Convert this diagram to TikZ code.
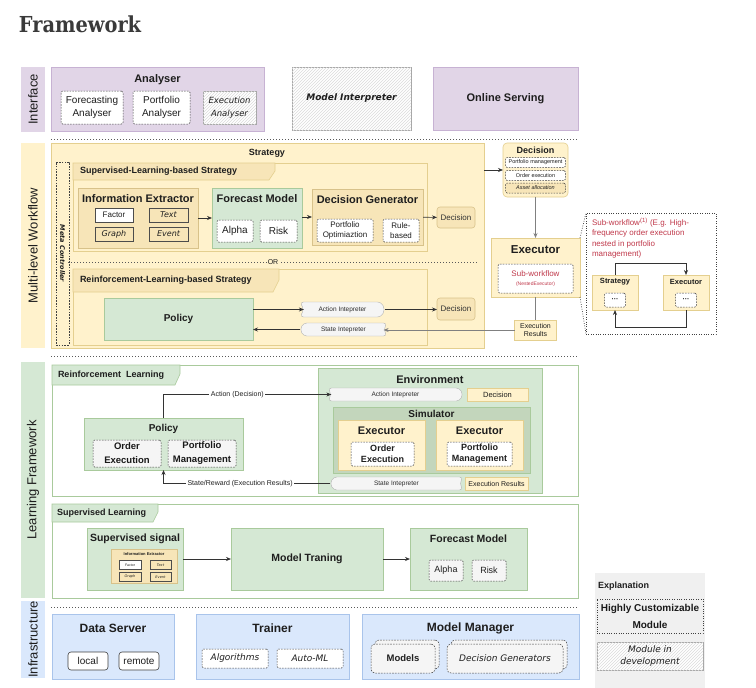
\documentclass[tikz,border=0pt]{standalone}
\usepackage{fontspec}
\setmainfont{Liberation Sans}
\newfontfamily\titlefont{DejaVu Serif}[FakeStretch=0.88]
\newfontfamily\comicfont{DejaVu Sans}
\usetikzlibrary{positioning,arrows.meta,patterns,shapes.symbols}

\definecolor{purplef}{HTML}{E1D5E7}
\definecolor{purpled}{HTML}{C7B2D3}
\definecolor{yellowf}{HTML}{FFF2CC}
\definecolor{yellowd}{HTML}{E4CF8F}
\definecolor{yellowk}{HTML}{F7E5B8}
\definecolor{yellowkd}{HTML}{D8C28A}
\definecolor{greenf}{HTML}{D5E8D4}
\definecolor{greend}{HTML}{A9CA9C}
\definecolor{simf}{HTML}{C3D6BC}
\definecolor{bluef}{HTML}{DAE8FC}
\definecolor{blued}{HTML}{A9C4EB}
\definecolor{grayf}{HTML}{F5F5F5}
\definecolor{explf}{HTML}{F0F0F0}
\definecolor{txtc}{HTML}{1E1E1E}
\definecolor{titlec}{HTML}{3A3A3A}
\definecolor{redt}{HTML}{C0394B}

\newcommand\fs[2]{\fontsize{#1}{#2}\selectfont}

\begin{document}
\begin{tikzpicture}[
                    x=1pt, y=-1pt,
                    >={Stealth[length=5pt,width=4pt]},
                    every node/.style={inner sep=0pt, outer sep=0pt, text=txtc, align=center},
                    sz/.style 2 args={minimum width=#1pt, minimum height=#2pt},
                    basebox/.style={draw, anchor=north west, line width=0.6pt},
                    purplebox/.style={basebox, fill=purplef, draw=purpled},
                    yellowbox/.style={basebox, fill=yellowf, draw=yellowd},
                    innerbox/.style={basebox, fill=yellowk, draw=yellowkd},
                    greenbox/.style={basebox, fill=greenf, draw=greend},
                    simbox/.style={basebox, fill=simf, draw=greend},
                    bluebox/.style={basebox, fill=bluef, draw=blued},
                    rlbox/.style={basebox, fill=white, draw=greend},
                    dashbox/.style={basebox, draw=gray!50!black, dash pattern=on 1.6pt off 1.2pt, line width=0.5pt, rounded corners=1.5pt},
                    dotbox/.style={basebox, draw=gray!50!black, dash pattern=on 0.8pt off 1.6pt, line width=0.7pt},
                    hatch/.style={basebox, fill=white, draw=gray!70, postaction={pattern=north east lines, pattern color=gray!28}},
                    solidbox/.style={basebox, draw=gray!60!black, line width=0.5pt},
                    decbox/.style={basebox, rounded corners=3pt, fill=yellowk, draw=yellowkd, font=\fs{8}{9}, text=gray!40!black},
                    rbox/.style={basebox, rounded corners=3pt, fill=white, draw=gray!50!black, font=\fs{10}{12}},
                    bar/.style={rotate=90, font=\fs{13}{15}},
                    tab/.style={fill=#1, draw=greend, line width=0.6pt},
                    actsig/.style={signal, signal from=west, signal to=east, signal pointer angle=125, rounded corners=3.5pt,
                                   draw=gray!60, fill=grayf, font=\fs{6.5}{8}, text=gray!35!black},
                    statesig/.style={actsig, signal from=east, signal to=west},
                    ttl/.style={font=\bfseries\fs{11}{13}},
                    ttlm/.style={font=\bfseries\fs{10}{12}},
                    ttls/.style={font=\bfseries\fs{9}{11}},
                    comic/.style={font=\comicfont\itshape\fs{#1}{#1}, text=gray!25!black},
                    lbl/.style={fill=white, inner sep=1.5pt, font=\fs{7}{8}, text=gray!25!black},
                    conn/.style={draw=black!80, line width=0.7pt},
                    gline/.style={draw=gray, line width=1pt},
                    sep/.style={draw=gray!70!black, dash pattern=on 0.8pt off 2.2pt, line width=0.8pt},
                    dotline/.style={draw=gray!50!black, dash pattern=on 0.8pt off 1.6pt, line width=0.7pt}
                ]
                \path[use as bounding box, fill=white] (0,0) rectangle (756,688);

                \node[anchor=west, font=\titlefont\bfseries\fs{22}{24}, text=titlec] (title) at (19,24) {Framework};

                % side bars
                \node[bar, fill=purplef, sz={65}{24}] (ifbar) at (33,99.5) {Interface};
                \node[bar, fill=yellowf, sz={205}{24}] (wfbar) at (33,245.5) {Multi-level Workflow};
                \node[bar, fill=greenf, sz={236}{24}] (lfbar) at (33,480) {Learning Framework};
                \node[bar, fill=bluef, sz={77}{24}] (isbar) at (33,639.5) {Infrastructure};

                \draw[sep] (51,139) -- (578,139);
                \draw[sep] (51,356) -- (578,356);
                \draw[sep] (51,607) -- (578,607);

                % interface
                \node[purplebox, sz={213}{64}] (analyser) at (51,67) {};
                \node[ttl] (analyser-t) at (157.5,80) {Analyser};
                \node[dashbox, fill=white, sz={62}{33}, font=\fs{10}{12.5}] (fcana) at (61,91) {Forecasting\\Analyser};
                \node[dashbox, fill=white, sz={57}{33}, font=\fs{10}{12.5}] (ptana) at (133,91) {Portfolio\\Analyser};
                \node[hatch, sz={53}{33}, comic=8.5, font=\comicfont\itshape\fs{8.5}{12.5}] (exana) at (203,91) {Execution\\Analyser};
                \node[hatch, sz={119}{63}, font=\comicfont\bfseries\itshape\fs{9}{11}] (modint) at (292,67) {Model Interpreter};
                \node[purplebox, sz={145}{63}, font=\bfseries\fs{11}{13}] (online) at (433,67) {Online Serving};

                % workflow
                \node[yellowbox, sz={433}{205}] (strategy) at (51,143) {};
                \node[ttls] (strategy-t) at (267,153) {Strategy};
                \node[dashbox, rounded corners=0pt, sz={13}{183}] (meta) at (56,162) {};
                \node[rotate=-90, font=\comicfont\bfseries\itshape\fs{6.5}{8}] (meta-t) at (meta.center) {Meta Controller};

                \node[yellowbox, sz={354}{88}] (slbs) at (73,163) {};
                \draw[tab=yellowk, draw=yellowd] (73,163) -- (275,163) -- (275,171) -- (269,180) -- (73,180) -- cycle;
                \node[ttls, anchor=west] (slbs-t) at (80,171.5) {Supervised-Learning-based Strategy};

                \node[innerbox, sz={120}{60}] (infoext) at (78,188) {};
                \node[ttl] (infoext-t) at (138,198.5) {Information Extractor};
                \node[solidbox, fill=white, sz={38}{14}, font=\fs{8}{9}] (ie-factor) at (95,208) {Factor};
                \node[solidbox, fill=yellowk, sz={39}{14}, comic=8] (ie-text) at (149,208) {Text};
                \node[solidbox, fill=yellowk, sz={38}{14}, comic=8] (ie-graph) at (95,227) {Graph};
                \node[solidbox, fill=yellowk, sz={39}{14}, comic=8] (ie-event) at (149,227) {Event};

                \node[greenbox, sz={90}{60}] (forecast) at (212,188) {};
                \node[ttl] (forecast-t) at (257,198.5) {Forecast Model};
                \node[dashbox, fill=white, sz={36}{22}, font=\fs{10}{12}] (alpha) at (217,220) {Alpha};
                \node[dashbox, fill=white, sz={37}{22}, font=\fs{10}{12}] (risk) at (260,220) {Risk};

                \node[innerbox, sz={111}{56}] (decgen) at (312,189) {};
                \node[ttl] (decgen-t) at (367.5,200) {Decision Generator};
                \node[dashbox, fill=white, sz={56}{23}, font=\fs{8}{10}] (portopt) at (317,219) {Portfolio\\Optimiaztion};
                \node[dashbox, fill=white, sz={36}{23}, font=\fs{8}{10}] (rulebased) at (383,219) {Rule-\\based};
                \node[decbox, sz={38}{21}] (decision-a) at (437,207) {Decision};

                \draw[conn, ->] (infoext) -- (forecast);
                \draw[conn, ->] (forecast.east |- decgen) -- (decgen);
                \draw[conn, ->] (decgen) -- (decision-a);

                \draw[sep] (68,262) -- (478,262);
                \node[fill=yellowf, inner sep=1pt, font=\fs{7}{8}] (or) at (273,262) {OR};

                \node[yellowbox, sz={354}{76}] (rlbs) at (73,269) {};
                \draw[tab=yellowk, draw=yellowd] (73,269) -- (279,269) -- (279,280) -- (273,292) -- (73,292) -- cycle;
                \node[ttls, anchor=west] (rlbs-t) at (80,280.5) {Reinforcement-Learning-based Strategy};
                \node[greenbox, sz={149}{42}, font=\bfseries\fs{10}{12}] (policy-a) at (104,298) {Policy};
                \node[actsig, sz={85}{15}] (actint-a) at (342.5,309.5) {Action Intepreter};
                \node[statesig, sz={87}{13}] (stint-a) at (343.5,329.5) {State Intepreter};
                \node[decbox, sz={38}{22}] (decision-b) at (437,298) {Decision};

                \draw[conn, ->] (policy-a.east |- actint-a.west) -- (actint-a.west);
                \draw[conn, ->] (actint-a.east) -- (actint-a.east -| decision-b.west);
                \draw[conn, ->] (stint-a.west) -- (stint-a.west -| policy-a.east);

                % decision and executor
                \node[yellowbox, rounded corners=4pt, sz={65}{54}] (decision-c) at (503,143) {};
                \node[ttls] (decision-c-t) at (535.5,150.5) {Decision};
                \node[dashbox, fill=white, sz={60}{10}, font=\fs{5.5}{6}] (dec-pm) at (505.5,157.5) {Portfolio management};
                \node[dashbox, fill=white, sz={60}{10}, font=\fs{5.5}{6}] (dec-oe) at (505.5,170.5) {Order execution};
                \node[dashbox, fill=yellowk, sz={60}{10}, font=\itshape\fs{5.5}{6}] (dec-aa) at (505.5,183) {Asset allocation};
                \draw[conn, ->] (decision-c.west -| strategy.east) -- (decision-c.west);

                \node[yellowbox, sz={89}{59}] (executor) at (491,238) {};
                \node[ttl, font=\bfseries\fs{11.5}{13}] (executor-t) at (535.5,249.5) {Executor};
                \node[dashbox, fill=white, sz={75}{29}, text=redt, font=\fs{8}{9.5}] (subwf) at (498,264) {Sub-workflow\\{\fs{5}{6}(NestedExecutor)}};
                \draw[gline, ->] (decision-c) -- (executor);

                \node[yellowbox, sz={42}{20}, font=\fs{7}{8.5}] (execres-a) at (514.5,320) {Execution\\Results};
                \draw[gline] (executor) -- (execres-a);
                \draw[gline, ->] (execres-a.west) -- (execres-a.west -| stint-a.east);

                % nested sub-workflow
                \node[dotbox, sz={130}{121}] (callout) at (586,213) {};
                \draw[dotline] (executor.north east) -- (callout.north west);
                \draw[dotline] (executor.south east) -- (callout.south west);
                \node[anchor=north west, align=left, text=redt, font=\fs{8}{10.5}] (callout-t) at (592,218)
                    {Sub-workflow\textsuperscript{(1)} (E.g. High-\\frequency order execution\\nested in portfolio\\management)};
                \node[yellowbox, sz={46}{35}] (substrat) at (592,275) {};
                \node[font=\bfseries\fs{7.5}{9}] (substrat-t) at (615,282) {Strategy};
                \node[dashbox, fill=white, sz={21}{14}, font=\bfseries\fs{7}{8}] (subdots-a) at (604.5,293) {···};
                \node[yellowbox, sz={46}{35}] (subexec) at (663,275) {};
                \node[font=\bfseries\fs{7.5}{9}] (subexec-t) at (686,282) {Executor};
                \node[dashbox, fill=white, sz={21}{14}, font=\bfseries\fs{7}{8}] (subdots-b) at (675.5,293) {···};
                \draw[conn, ->] (substrat.north) -- ++(0,-12) -| (subexec.north);
                \draw[conn, ->] (subexec.south) -- ++(0,17) -| (substrat.south);

                % learning framework: reinforcement learning
                \node[rlbox, sz={526}{131}] (rl) at (52,365) {};
                \draw[tab=greenf] (52,365) -- (180,365) -- (180,374) -- (175,385) -- (52,385) -- cycle;
                \node[ttls, anchor=west] (rl-t) at (58,375) {Reinforcement\ \ Learning};
                \node[greenbox, sz={159}{52}] (policy-b) at (84,418) {};
                \node[ttlm] (policy-b-t) at (163.5,428.5) {Policy};
                \node[dashbox, fill=grayf, sz={68}{27}, font=\bfseries\fs{9.5}{14}, text=gray!20!black] (pol-oe) at (93,440) {Order\\Execution};
                \node[dashbox, fill=grayf, sz={68}{27}, font=\bfseries\fs{9.5}{14}, text=gray!20!black] (pol-pm) at (168,440) {Portfolio\\Management};

                \node[greenbox, sz={224}{125}] (env) at (318,368) {};
                \node[ttl] (env-t) at (430,380) {Environment};
                \node[actsig, sz={135}{13}] (actint-b) at (395.5,394.5) {Action Intepreter};
                \node[yellowbox, sz={61}{13}, font=\fs{7.5}{9}] (decision-d) at (467,388) {Decision};
                \node[simbox, sz={197}{66}] (sim) at (333,407) {};
                \node[ttlm] (sim-t) at (431.5,413.5) {Simulator};
                \node[yellowbox, sz={87}{50}] (exec-b) at (338,420) {};
                \node[ttl] (exec-b-t) at (381.5,430.5) {Executor};
                \node[dashbox, fill=white, sz={63}{24}, font=\bfseries\fs{9}{11}] (sim-oe) at (351,442) {Order\\Execution};
                \node[yellowbox, sz={87}{50}] (exec-c) at (436,420) {};
                \node[ttl] (exec-c-t) at (479.5,430.5) {Executor};
                \node[dashbox, fill=white, sz={65}{24}, font=\bfseries\fs{9}{11}] (sim-pm) at (447,442) {Portfolio\\Management};
                \node[statesig, sz={133}{13}] (stint-b) at (396.5,483.5) {State Intepreter};
                \node[yellowbox, sz={63}{13}, font=\fs{7}{8}] (execres-b) at (465,477) {Execution Results};

                \draw[conn, ->] (policy-b.north) |- node[lbl, pos=0.72] {Action (Decision)} (actint-b.west);
                \draw[conn, ->] (stint-b.west) -| node[lbl, pos=0.27] {State/Reward (Execution Results)} (policy-b.south);

                % learning framework: supervised learning
                \node[rlbox, sz={526}{94}] (sl) at (52,504) {};
                \draw[tab=greenf] (52,504) -- (158,504) -- (158,512) -- (153,522) -- (52,522) -- cycle;
                \node[ttls, anchor=west] (sl-t) at (57,513) {Supervised Learning};
                \node[greenbox, sz={96}{62}] (supsig) at (87,528) {};
                \node[ttlm, font=\bfseries\fs{10.5}{12}] (supsig-t) at (135,538.5) {Supervised signal};
                \node[innerbox, sz={66}{34}] (ie-mini) at (111,549) {};
                \node[font=\bfseries\fs{4}{5}] (ie-mini-t) at (144,554.5) {Information Extractor};
                \node[solidbox, fill=white, sz={22}{9}, font=\fs{3.5}{4}] (mini-factor) at (119,560.5) {Factor};
                \node[solidbox, fill=yellowk, sz={21}{9}, comic=3.5] (mini-text) at (150,560.5) {Text};
                \node[solidbox, fill=yellowk, sz={22}{9}, comic=3.5] (mini-graph) at (119,572.5) {Graph};
                \node[solidbox, fill=yellowk, sz={21}{9}, comic=3.5] (mini-event) at (150,572.5) {Event};
                \node[greenbox, sz={152}{62}, font=\bfseries\fs{10.5}{12}] (modtrain) at (231,528) {Model Traning};
                \node[greenbox, sz={117}{62}] (forecast-b) at (410,528) {};
                \node[ttlm, font=\bfseries\fs{10.5}{12}] (forecast-b-t) at (468.5,538.5) {Forecast Model};
                \node[dashbox, fill=grayf, sz={34}{21}, font=\fs{9}{11}] (alpha-b) at (429,560) {Alpha};
                \node[dashbox, fill=grayf, sz={34}{21}, font=\fs{9}{11}] (risk-b) at (472,560) {Risk};
                \draw[conn, ->] (supsig) -- (modtrain);
                \draw[conn, ->] (modtrain) -- (forecast-b);

                % infrastructure
                \node[bluebox, sz={122}{65}] (dataserver) at (52,614) {};
                \node[ttl, font=\bfseries\fs{12}{14}] (dataserver-t) at (113,628.5) {Data Server};
                \node[rbox, sz={40}{18}] (local) at (68,652) {local};
                \node[rbox, sz={40}{18}] (remote) at (119,652) {remote};
                \node[bluebox, sz={153}{65}] (trainer) at (196,614) {};
                \node[ttl, font=\bfseries\fs{12}{14}] (trainer-t) at (272.5,628.5) {Trainer};
                \node[dashbox, fill=white, sz={66}{19}, comic=9] (algos) at (202,649) {Algorithms};
                \node[dashbox, fill=white, sz={66}{19}, comic=9] (automl) at (277,649) {Auto-ML};
                \node[bluebox, sz={217}{65}] (modman) at (362,614) {};
                \node[ttl, font=\bfseries\fs{12}{14}] (modman-t) at (470.5,628.5) {Model Manager};
                \node[dashbox, rounded corners=4pt, fill=grayf, sz={64}{29}] (models-bk) at (375,640) {};
                \node[dashbox, rounded corners=4pt, fill=grayf, sz={64}{29}, font=\bfseries\fs{9.5}{11}, text=gray!25!black] (models) at (371,644) {Models};
                \node[dashbox, rounded corners=4pt, fill=grayf, sz={116}{29}] (decgens-bk) at (451,640) {};
                \node[dashbox, rounded corners=4pt, fill=grayf, sz={116}{29}, comic=9] (decgens) at (447,644) {Decision Generators};

                % explanation
                \node[anchor=north west, fill=explf, sz={110}{115}] (expl) at (595,573) {};
                \node[ttls, anchor=west] (expl-t) at (598,586) {Explanation};
                \node[dotbox, sz={106}{34}, font=\bfseries\fs{10}{17}, text=gray!20!black] (custom) at (597,599) {Highly Customizable\\Module};
                \node[hatch, sz={106}{28}, font=\comicfont\itshape\fs{9}{12}, text=gray!25!black] (indev) at (597,642) {Module in\\development};
            \end{tikzpicture}
\end{document}
